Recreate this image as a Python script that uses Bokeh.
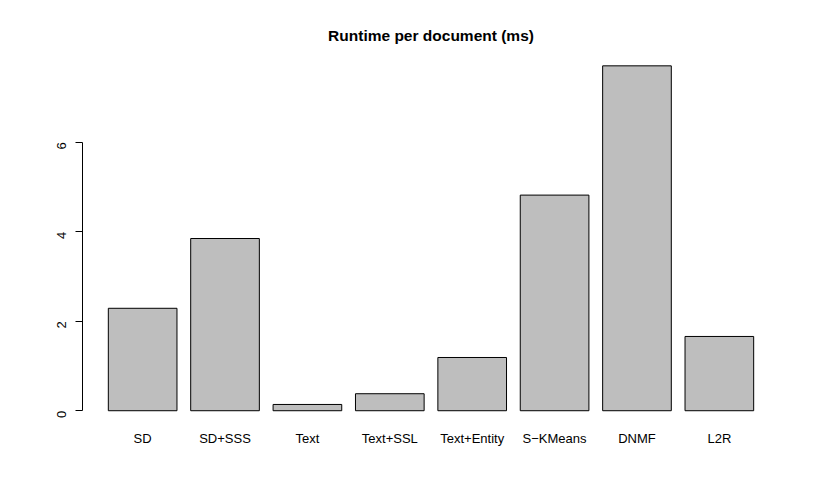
import math
from bokeh.plotting import figure
from bokeh.models import FactorRange, Range1d, LinearAxis, FixedTicker, ColumnDataSource
from bokeh.embed import file_html
from bokeh.resources import INLINE

methods = ["SD", "SD+SSS", "Text", "Text+SSL", "Text+Entity", "S\u2212KMeans", "DNMF", "L2R"]
runtime = [2.29, 3.85, 0.14, 0.38, 1.19, 4.82, 7.71, 1.66]
y_ticks = [0, 2, 4, 6]

FONT = "Liberation Sans"

src = ColumnDataSource(data=dict(m=methods, v=runtime))

p = figure(width=814, height=482, output_backend="svg", toolbar_location=None,
           x_range=FactorRange(factors=methods, range_padding=0.23, range_padding_units="absolute"),
           y_range=Range1d(-0.308, 8.008),
           y_axis_location=None,
           min_border_left=82, min_border_right=35, min_border_top=52, min_border_bottom=58)

p.vbar(x="m", top="v", bottom=0, width=1/1.2, source=src,
       fill_color="#BEBEBE", line_color="black", line_width=1)

p.xgrid.visible = False
p.ygrid.visible = False
p.outline_line_color = None
p.background_fill_color = "white"
p.border_fill_color = "white"

xa = p.xaxis[0]
xa.axis_line_color = None
xa.major_tick_line_color = None
xa.minor_tick_line_color = None
xa.major_label_standoff = 0
xa.major_label_text_font = FONT
xa.major_label_text_font_size = "13px"
xa.major_label_text_color = "black"

ya = LinearAxis(ticker=FixedTicker(ticks=y_ticks), bounds=(0, 6))
ya.axis_line_color = "black"
ya.major_tick_line_color = "black"
ya.major_tick_out = 7
ya.major_tick_in = 0
ya.minor_tick_line_color = None
ya.major_label_orientation = math.pi / 2
ya.major_label_standoff = 14
ya.major_label_text_font = FONT
ya.major_label_text_font_size = "13px"
ya.major_label_text_color = "black"
p.add_layout(ya, "left")

p.title.text = "Runtime per document (ms)"
p.title.align = "center"
p.title.text_font = FONT
p.title.text_font_size = "15.5px"
p.title.text_font_style = "bold"
p.title.text_color = "black"
p.title.standoff = 18

open("out.html", "w").write(file_html(p, INLINE))
